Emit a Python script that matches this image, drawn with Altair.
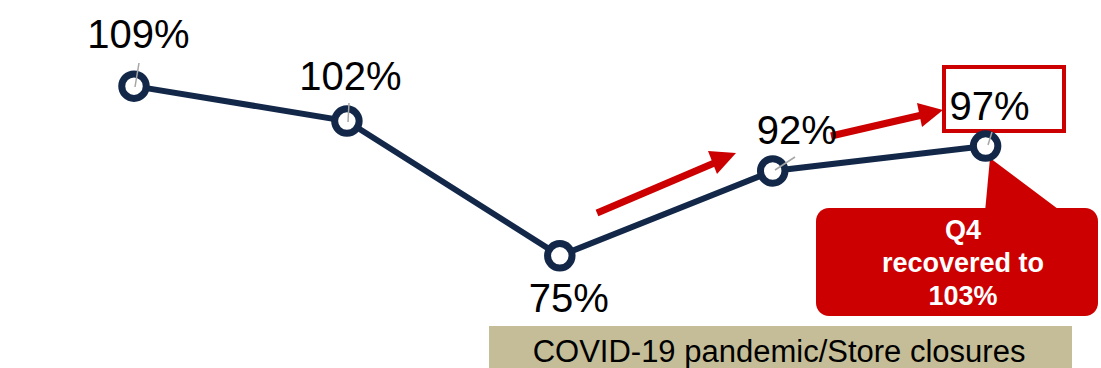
import altair as alt
import pandas as pd

# ---- data ----
period = [0, 1, 2, 3, 4]
values = [109, 102, 75, 92, 97]
labels = ["109%", "102%", "75%", "92%", "97%"]

df = pd.DataFrame({"period": period, "value": values, "label": labels})

NAVY = "#132849"
RED = "#cc0000"
TAN = "#c4bd97"
FONT = "Liberation Sans"

xs = alt.Scale(domain=[-0.6294, 4.542], nice=False, zero=False)
ys = alt.Scale(domain=[52.52, 126.26], nice=False, zero=False)
X = alt.X("period:Q", scale=xs, axis=None)
Y = alt.Y("value:Q", scale=ys, axis=None)

base = alt.Chart(df)


def path_shape(d, fill=None, stroke=None, sw=0):
    kw = dict(shape=d, size=4, opacity=1, strokeWidth=sw)
    if fill:
        kw.update(filled=True, fill=fill)
    else:
        kw.update(filled=False, fill="transparent")
    if stroke:
        kw.update(stroke=stroke)
    return base.mark_point(**kw).encode(x=alt.value(0), y=alt.value(0)).transform_filter("datum.period == 0")


# annotation shapes (pixel space)
tan_box = base.mark_rect(color=TAN).encode(
    x=alt.value(489), x2=alt.value(1072), y=alt.value(326), y2=alt.value(368)
).transform_filter("datum.period == 0")
tan_text = base.mark_text(font=FONT, fontSize=31, color="black", align="center", baseline="alphabetic").encode(
    x=alt.value(779), y=alt.value(362), text=alt.value("COVID-19 pandemic/Store closures")
).transform_filter("datum.period == 0")

callout_box = base.mark_rect(color=RED, cornerRadius=13).encode(
    x=alt.value(816), x2=alt.value(1098), y=alt.value(208), y2=alt.value(316)
).transform_filter("datum.period == 0")
callout_ptr = path_shape("M990,158L985,212L1062,212Z", fill=RED)
callout_text = base.mark_text(font=FONT, fontSize=27, fontWeight="bold", color="white",
                              align="center", baseline="alphabetic", lineHeight=33).encode(
    x=alt.value(963), y=alt.value(239), text=alt.value(["Q4", "recovered to", "103%"])
).transform_filter("datum.period == 0")

box97 = base.mark_rect(fill="white", stroke=RED, strokeWidth=4).encode(
    x=alt.value(944), x2=alt.value(1064), y=alt.value(67), y2=alt.value(131)
).transform_filter("datum.period == 0")

arrow1_shaft = path_shape("M597,213L719,161", stroke=RED, sw=7)
arrow1_head = path_shape("M736,153L708,151L717,174Z", fill=RED)
arrow2_shaft = path_shape("M831,136L922,115", stroke=RED, sw=7)
arrow2_head = path_shape("M943,110L917,103L922,127Z", fill=RED)

leaders = [
    path_shape("M139,63L135,87", stroke="#a6a6a6", sw=1.5),
    path_shape("M349,103L348,122", stroke="#a6a6a6", sw=1.5),
    path_shape("M795,157L775,170", stroke="#a6a6a6", sw=1.5),
    path_shape("M992,132L988,145", stroke="#a6a6a6", sw=1.5),
]

line = base.mark_line(color=NAVY, strokeWidth=6).encode(x=X, y=Y)
points = base.mark_point(shape="circle", size=600, filled=False, fill="white", stroke=NAVY,
                         strokeWidth=7, opacity=1).encode(x=X, y=Y)

label_offsets = {0: (4.5, -38), 1: (3.5, -31), 2: (9, 56), 3: (24, -27), 4: (4, -26)}
label_layers = []
for p, (dx, dy) in label_offsets.items():
    label_layers.append(
        base.mark_text(font=FONT, fontSize=40, color="black", align="center", baseline="alphabetic",
                       dx=dx, dy=dy).encode(x=X, y=Y, text="label:N").transform_filter(f"datum.period == {p}")
    )

chart = alt.layer(
    tan_box, tan_text, callout_ptr, callout_box, box97,
    arrow1_shaft, arrow1_head, arrow2_shaft, arrow2_head,
    line, points, *leaders, *label_layers, callout_text,
).properties(
    width=1101, height=368, padding=0, autosize=alt.AutoSizeParams(type="none"),
    background="white",
).configure_view(stroke=None)

chart.save("out.html", embed_options={"renderer": "svg", "actions": False})
